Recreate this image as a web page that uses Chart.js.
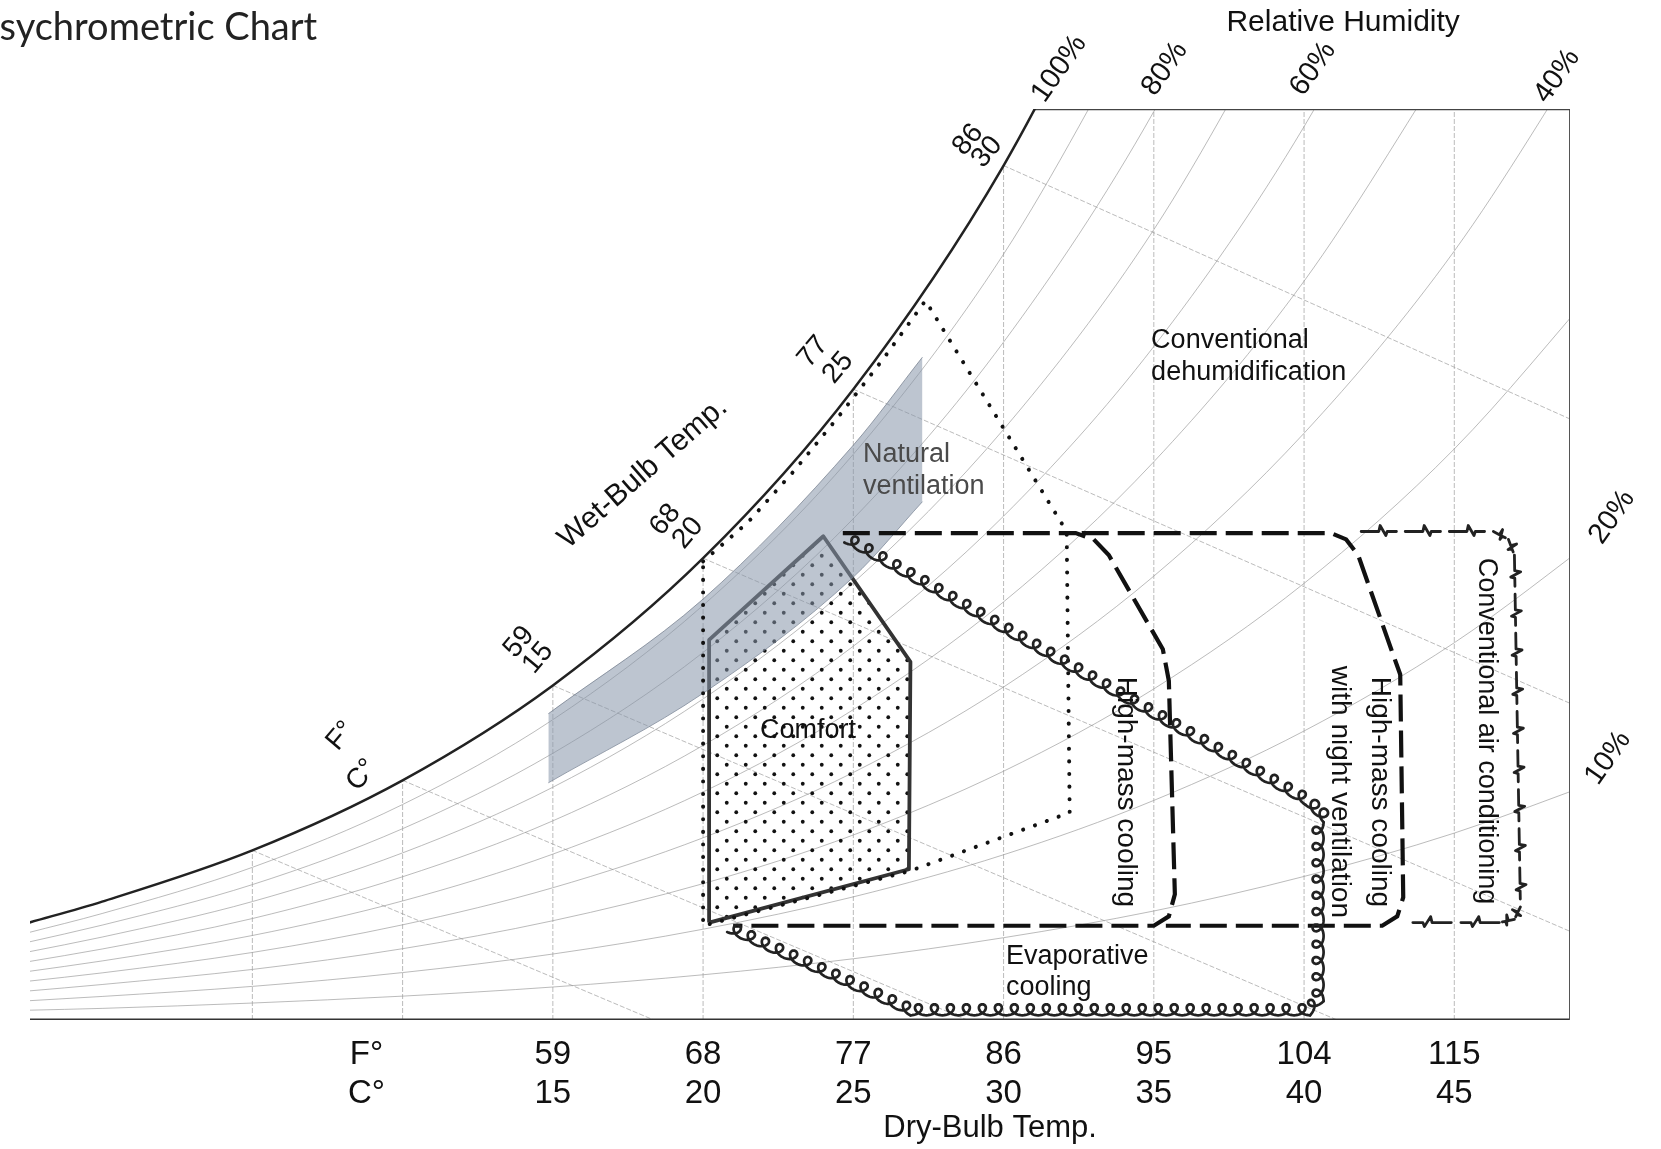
<!DOCTYPE html>
<html><head><meta charset="utf-8">
<script src="https://cdn.jsdelivr.net/npm/chart.js@4/dist/chart.umd.min.js"></script>
<style>html,body{margin:0;padding:0;background:#fff;overflow:hidden}canvas{display:block}</style>
</head><body>
<canvas id="c" width="1661" height="1149"></canvas>
<script>
// ================= DATA (dry-bulb °C on x, humidity ratio g/kg on y) =================
const rhTemps = [-2.5, 0, 5, 10, 15, 20, 25, 30, 35, 40, 45, 50];
const rh100 = [3.08, 3.77, 5.40, 7.63, 10.65, 14.70, 20.08, 27.20, 36.58];
const rh90  = [2.77, 3.39, 4.86, 6.86, 9.56, 13.20, 18.01, 24.38, 32.73];
const rh80  = [2.47, 3.02, 4.31, 6.09, 8.49, 11.70, 15.96, 21.58, 28.92, 38.51];
const rh70  = [2.16, 2.64, 3.77, 5.32, 7.41, 10.22, 13.92, 18.80, 25.16, 33.44];
const rh60  = [1.85, 2.26, 3.23, 4.56, 6.34, 8.74, 11.90, 16.04, 21.44, 28.44, 37.46];
const rh50  = [1.54, 1.88, 2.69, 3.79, 5.28, 7.26, 9.88, 13.31, 17.77, 23.52, 30.91];
const rh40  = [1.23, 1.50, 2.15, 3.03, 4.21, 5.80, 7.88, 10.60, 14.13, 18.68, 24.48, 31.88];
const rh30  = [0.92, 1.13, 1.61, 2.27, 3.16, 4.34, 5.89, 7.92, 10.54, 13.90, 18.18, 23.61];
const rh20  = [0.61, 0.75, 1.07, 1.51, 2.10, 2.89, 3.92, 5.26, 6.99, 9.20, 12.01, 15.54];
const rh10  = [0.31, 0.37, 0.54, 0.76, 1.05, 1.44, 1.95, 2.62, 3.47, 4.57, 5.95, 7.67];

// wet-bulb lines: start on saturation, end at bottom / right edge
const wbStartT = [5, 10, 15, 20, 25, 30];
const wbStartW = [5.40, 7.63, 10.65, 14.70, 20.08, 27.20];
const wbEndT   = [18.36, 28.79, 41.1, 50, 50, 50];
const wbEndW   = [0, 0, 0, 2.35, 9.60, 18.64];

// dry-bulb vertical lines
const dbT   = [5, 10, 15, 20, 25, 30, 35, 40, 45];
const dbTop = [5.40, 7.63, 10.65, 14.70, 20.08, 27.20, 29, 29, 29];

// chart frame
const frameTopT = [31.0, 48.85], frameTopW = [29, 29];
const frameRightT = [48.85, 48.85], frameRightW = [29, 0];
const baseT = [-2.4, 48.85], baseW = [0, 0];

// natural ventilation band
const bandT      = [14.85, 20, 25, 27.3];
const bandTopW   = [9.75, 13.4, 18.3, 21.1];
const bandBottomW= [7.55, 10.4, 14.1, 16.5];

// comfort zone
const comfortT = [20.2, 20.2, 24.0, 26.9, 26.85, 20.2];
const comfortW = [3.1, 12.1, 15.4, 11.4, 4.8, 3.1];

// natural ventilation (dotted) zone
const natVentT = [20.0, 21.5, 23.0, 24.5, 26.0, 27.4, 32.1, 32.2, 26.9, 20.0, 20.0];
const natVentW = [14.6, 15.85, 17.45, 19.2, 21.05, 22.9, 15.55, 6.6, 4.75, 3.0, 14.6];

// high-mass cooling (long dash)
const massT = [24.65, 32.4, 33.0, 33.5, 35.3, 35.5, 35.7, 35.5, 35.0, 21.0];
const massW = [15.5, 15.5, 15.3, 14.8, 11.8, 10.8, 4.0, 3.3, 3.0, 3.0];

// high-mass cooling with night ventilation (long dash)
const nightT = [32.6, 40.9, 41.4, 41.8, 42.9, 43.2, 43.3, 43.1, 42.6, 35.4];
const nightW = [15.5, 15.5, 15.3, 14.8, 11.8, 11.0, 3.9, 3.3, 3.0, 3.0];

// conventional air conditioning (zigzag)
const acT = [41.9, 46.3, 46.8, 47.0, 47.2, 47.0, 46.5, 43.3];
const acW = [15.55, 15.55, 15.3, 14.8, 3.6, 3.2, 3.1, 3.1];

// evaporative cooling (droplet chain)
const evapT = [20.8, 26.9, 40.2, 40.65, 40.65, 40.05, 24.7];
const evapW = [2.8, 0.15, 0.15, 0.6, 6.3, 6.85, 15.2];

// axis ticks
const tickT = [8.8, 15, 20, 25, 30, 35, 40, 45];
const tickF = ['F°', '59', '68', '77', '86', '95', '104', '115'];
const tickC = ['C°', '15', '20', '25', '30', '35', '40', '45'];

// ================= STYLE / LAYOUT =================
const SANS = '"Liberation Sans", Arial, Helvetica, sans-serif';
const GRID = 'rgba(150,150,150,0.65)';

const notes = [
  {text:'Relative Humidity', t:41.3, w:31.74, size:30, rot:0},
  {text:'100%', t:31.85, w:30.28, size:29, rot:-55},
  {text:'80%', t:35.37, w:30.28, size:29, rot:-55},
  {text:'60%', t:40.30, w:30.28, size:29, rot:-55},
  {text:'40%', t:48.42, w:30.05, size:29, rot:-55},
  {text:'20%', t:50.25, w:16.01, size:29, rot:-55},
  {text:'10%', t:50.12, w:8.34, size:29, rot:-55},
  {text:'86', t:28.82, w:28.02, size:28, rot:-50},
  {text:'30', t:29.45, w:27.63, size:28, rot:-50},
  {text:'77', t:23.66, w:21.27, size:28, rot:-50},
  {text:'25', t:24.49, w:20.76, size:28, rot:-50},
  {text:'68', t:18.74, w:15.92, size:28, rot:-50},
  {text:'20', t:19.50, w:15.50, size:28, rot:-50},
  {text:'59', t:13.88, w:12.03, size:28, rot:-50},
  {text:'15', t:14.51, w:11.52, size:28, rot:-50},
  {text:'F°', t:7.95, w:9.04, size:28, rot:-50},
  {text:'C°', t:8.65, w:7.80, size:28, rot:-50},
  {text:'Wet-Bulb Temp.', t:18.0, w:17.41, size:30, rot:-41},
  {text:'Conventional', t:34.91, w:21.62, size:27, rot:0, align:'left'},
  {text:'dehumidification', t:34.91, w:20.60, size:27, rot:0, align:'left'},
  {text:'Natural', t:25.32, w:17.99, size:27, rot:0, align:'left', color:'#4a4a4a'},
  {text:'ventilation', t:25.32, w:16.97, size:27, rot:0, align:'left', color:'#4a4a4a'},
  {text:'Comfort', t:23.49, w:9.20, size:27, rot:0},
  {text:'High-mass cooling', t:34.08, w:7.26, size:28, rot:90},
  {text:'High-mass cooling', t:42.53, w:7.26, size:28, rot:90},
  {text:'with night ventilation', t:41.20, w:7.26, size:28, rot:90},
  {text:'Conventional air conditioning', t:46.06, w:9.20, size:27, rot:90},
  {text:'Evaporative', t:30.08, w:2.01, size:27, rot:0, align:'left'},
  {text:'cooling', t:30.08, w:1.02, size:27, rot:0, align:'left'},
  {text:'Dry-Bulb Temp.', t:29.55, w:-3.44, size:31, rot:0}
];

// ================= BUILD =================
const pts = (xs, ys) => xs.map((x, i) => ({x, y: ys[i]}));
function ds(xs, ys, o) {
  return Object.assign({data: pts(xs, ys), borderColor: GRID, borderWidth: 1, pointRadius: 0,
    pointHoverRadius: 0, fill: false, tension: 0, order: 100}, o);
}

// dotted fill pattern for comfort zone
const pc = document.createElement('canvas'); pc.width = 19; pc.height = 19;
const pcx = pc.getContext('2d'); pcx.fillStyle = '#111';
[[4.75, 4.75], [14.25, 14.25]].forEach(([x, y]) => { pcx.beginPath(); pcx.arc(x, y, 1.9, 0, Math.PI * 2); pcx.fill(); });
const dotPattern = pcx.createPattern(pc, 'repeat');

const datasets = [];
[rh90, rh80, rh70, rh60, rh50, rh40, rh30, rh20, rh10].forEach(a =>
  datasets.push(ds(rhTemps.slice(0, a.length), a, {cubicInterpolationMode: 'monotone'})));
wbStartT.forEach((t, i) => datasets.push(ds([t, wbEndT[i]], [wbStartW[i], wbEndW[i]], {borderDash: [5, 2]})));
dbT.forEach((t, i) => datasets.push(ds([t, t], [0, dbTop[i]], {borderDash: [5, 2]})));

datasets.push(ds(comfortT, comfortW, {borderColor: '#333', borderWidth: 3.8, fill: 'shape',
  backgroundColor: dotPattern, order: 50, borderJoinStyle: 'round'}));
datasets.push(ds(bandT, bandTopW, {borderColor: 'rgba(110,120,135,0.7)', borderWidth: 1, cubicInterpolationMode: 'monotone',
  fill: '+1', backgroundColor: 'rgba(135,150,170,0.55)', order: 40}));
datasets.push(ds(bandT, bandBottomW, {borderColor: 'rgba(110,120,135,0.7)', borderWidth: 1, cubicInterpolationMode: 'monotone', order: 40}));
datasets.push(ds(natVentT, natVentW, {borderColor: '#111', borderWidth: 4, borderDash: [0.1, 12.5], borderCapStyle: 'round', order: 30}));
datasets.push(ds(massT, massW, {borderColor: '#111', borderWidth: 4.2, borderDash: [27, 9], order: 20}));
datasets.push(ds(nightT, nightW, {borderColor: '#111', borderWidth: 4.2, borderDash: [27, 9], order: 20}));
datasets.push(ds(acT, acW, {showLine: false, deco: 'zigzag', order: 20}));
datasets.push(ds(evapT, evapW, {showLine: false, deco: 'coil', order: 20}));
datasets.push(ds(rhTemps.slice(0, rh100.length), rh100, {borderColor: '#222', borderWidth: 2.5, cubicInterpolationMode: 'monotone', order: 10}));
datasets.push(ds(frameTopT, frameTopW, {borderColor: '#444', borderWidth: 2.5, order: 10}));
datasets.push(ds(frameRightT, frameRightW, {borderColor: '#555', borderWidth: 2, order: 10}));
datasets.push(ds(baseT, baseW, {borderColor: '#333', borderWidth: 3, order: 10}));

function frame(a, b) {
  const dx = b.x - a.x, dy = b.y - a.y, D = Math.hypot(dx, dy);
  const ux = dx / D, uy = dy / D;
  let nx = uy, ny = -ux;
  if (ny > 1e-6 || (Math.abs(ny) <= 1e-6 && nx > 0)) { nx = -nx; ny = -ny; }
  return {D, ux, uy, nx, ny};
}
function zigzag(ctx, a, b, period) {
  const f = frame(a, b); if (f.D < 3) return;
  const k = Math.max(1, Math.round(f.D / period)), L = f.D / k;
  const shape = [[0, 0], [0.40, 0], [0.43, 6], [0.56, -4], [0.59, 0], [0.80, 0]];
  for (let i = 0; i < k; i++) {
    ctx.beginPath();
    shape.forEach(([s, h], j) => {
      const x = a.x + f.ux * (i + s) * L + f.nx * h, y = a.y + f.uy * (i + s) * L + f.ny * h;
      j ? ctx.lineTo(x, y) : ctx.moveTo(x, y);
    });
    ctx.stroke();
  }
}
function coil(ctx, a, b, step, bb, c) {
  const f = frame(a, b); if (f.D < 4) return;
  const k = Math.max(1, Math.round(f.D / step)), L = f.D / k, A = L / (2 * Math.PI);
  ctx.beginPath();
  const N = k * 36;
  for (let i = 0; i <= N; i++) {
    const ph = i / 36 * 2 * Math.PI;
    const s = A * ph + bb * Math.sin(ph), h = c * (1 - Math.cos(ph));
    const x = a.x + f.ux * s + f.nx * h, y = a.y + f.uy * s + f.ny * h;
    i ? ctx.lineTo(x, y) : ctx.moveTo(x, y);
  }
  ctx.stroke();
}

const decoPlugin = {
  id: 'deco',
  afterDatasetsDraw(chart) {
    const ctx = chart.ctx;
    chart.data.datasets.forEach((d, i) => {
      if (!d.deco) return;
      const p = chart.getDatasetMeta(i).data.map(e => ({x: e.x, y: e.y}));
      ctx.save();
      ctx.strokeStyle = '#222'; ctx.lineJoin = 'round'; ctx.lineCap = 'round';
      for (let j = 0; j < p.length - 1; j++) {
        if (d.deco === 'zigzag') { ctx.lineWidth = 2.8; zigzag(ctx, p[j], p[j + 1], 40); }
        else { ctx.lineWidth = 2.7; coil(ctx, p[j], p[j + 1], 16, 7, 5.5); }
      }
      ctx.restore();
    });
  }
};

const textPlugin = {
  id: 'texts',
  afterDraw(chart) {
    const ctx = chart.ctx, xs = chart.scales.x, ys = chart.scales.y;
    ctx.save();
    notes.forEach(n => {
      ctx.save();
      ctx.translate(xs.getPixelForValue(n.t), ys.getPixelForValue(n.w));
      ctx.rotate(n.rot * Math.PI / 180);
      ctx.font = n.size + 'px ' + SANS;
      ctx.fillStyle = n.color || '#111';
      ctx.textAlign = n.align || 'center';
      ctx.textBaseline = 'middle';
      ctx.fillText(n.text, 0, 0);
      ctx.restore();
    });
    // page title, cut off at the left edge like the reference
    ctx.font = '38px Lato, "Open Sans", sans-serif';
    ctx.fillStyle = '#222';
    ctx.textAlign = 'left'; ctx.textBaseline = 'alphabetic';
    const wp = ctx.measureText('P').width;
    ctx.fillText('Psychrometric Chart', -wp, 40);
    ctx.restore();
  }
};

new Chart(document.getElementById('c'), {
  type: 'line',
  data: {datasets},
  options: {
    responsive: false, animation: false, devicePixelRatio: 1, events: [],
    layout: {padding: {top: 109, left: 30, right: 91, bottom: 0}},
    plugins: {legend: {display: false}, tooltip: {enabled: false}, title: {display: false}},
    elements: {point: {radius: 0}},
    scales: {
      x: {
        type: 'linear', min: -2.4, max: 48.85,
        afterBuildTicks: s => { s.ticks = tickT.map(v => ({value: v})); },
        afterFit: s => { s.height = 129; },
        grid: {display: false, drawTicks: false}, border: {display: false},
        ticks: {autoSkip: false, maxRotation: 0, minRotation: 0, padding: 15, color: '#111',
          font: {family: SANS, size: 33, lineHeight: 1.2},
          callback: (v, i) => [tickF[i], tickC[i]]}
      },
      y: {type: 'linear', min: 0, max: 29, display: false}
    }
  },
  plugins: [decoPlugin, textPlugin]
});
</script>
</body></html>
